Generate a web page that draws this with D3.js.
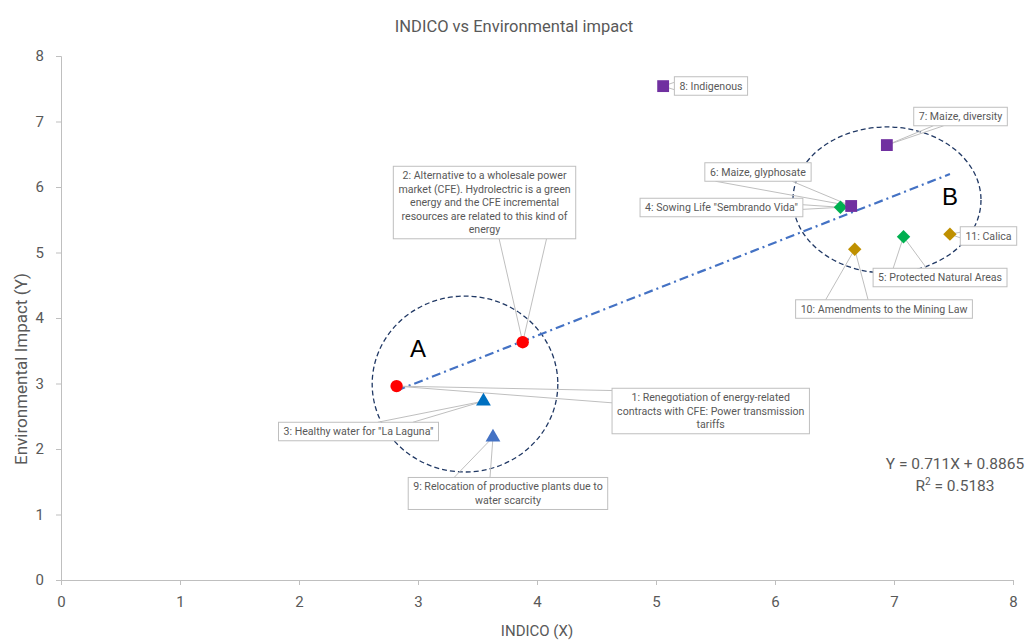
<!DOCTYPE html>
<html><head><meta charset="utf-8">
<script src="https://cdn.jsdelivr.net/npm/d3@7"></script>
<style>
body{margin:0;background:#fff;}
svg{display:block;font-family:Roboto, "Open Sans", sans-serif;}
</style></head>
<body><svg id="chart" width="1031" height="644"></svg>
<script>
// ---- data ----
const pointIds = [1,2,3,4,5,6,7,8,9,10,11];
const xValues = [2.82,3.88,3.55,6.55,7.08,6.64,6.94,5.06,3.63,6.67,7.47];
const yValues = [2.96,3.63,2.73,5.69,5.24,5.71,6.64,7.54,2.18,5.05,5.28];
const pointShapes = ["circle","circle","triangle","diamond","diamond","square","square","square","triangle","diamond","diamond"];
const pointColors = ["#FF0000","#FF0000","#0070C0","#00B050","#00B050","#7030A0","#7030A0","#7030A0","#4472C4","#BF9000","#BF9000"];
const pointLabels = [
  ["1: Renegotiation of energy-related","contracts with CFE: Power transmission","tariffs"],
  ["2: Alternative to a wholesale power","market (CFE). Hydrolectric is a green","energy and the CFE incremental","resources are related to this kind of","energy"],
  ["3: Healthy water for \"La Laguna\""],
  ["4: Sowing Life \"Sembrando Vida\""],
  ["5: Protected Natural Areas"],
  ["6: Maize, glyphosate"],
  ["7: Maize, diversity"],
  ["8: Indigenous"],
  ["9: Relocation of productive plants due to","water scarcity"],
  ["10: Amendments to the Mining Law"],
  ["11: Calica"]
];
const xTicks = [0,1,2,3,4,5,6,7,8];
const yTicks = [0,1,2,3,4,5,6,7,8];
const trendSlope = 0.711, trendIntercept = 0.8865, rSquared = 0.5183;
const clusterNames = ["A","B"];

// ---- layout (label box centers in data units, leader attachment) ----
const labelLayout = [
  {cx:5.46, cy:2.58, side:"left",   at:[0.05,0.32]},
  {cx:3.559,cy:5.763,side:"bottom", at:[0.58,0.84]},
  {cx:2.50, cy:2.267,side:"top",    at:[0.62,0.84]},
  {cx:5.55, cy:5.687,side:"right",  at:[0.35,0.6]},
  {cx:7.387,cy:4.618,side:"top",    at:[0.15,0.40]},
  {cx:5.857,cy:6.229,side:"bottom", at:[0.10,0.82]},
  {cx:7.559,cy:7.076,side:"bottom", at:[0.21,0.32]},
  {cx:5.462,cy:7.542,side:"left",   at:[0.3,0.7]},
  {cx:3.756,cy:1.321,side:"top",    at:[0.23,0.41]},
  {cx:6.916,cy:4.137,side:"top",    at:[0.17,0.41]},
  {cx:7.794,cy:5.252,side:"left",   at:[0.3,0.6]}
];
const clusterLayout = [
  {cx:3.395, cy:2.992, rx:0.78, ry:1.343, lx:3.0,  ly:3.54},
  {cx:6.941, cy:5.802, rx:0.79, ry:1.115, lx:7.47, ly:5.85}
];

const W=1031,H=644;
const m={left:61,right:18,top:56,bottom:64};
const svg=d3.select("#chart");
const x=d3.scaleLinear().domain([0,8]).range([m.left,W-m.right]);
const y=d3.scaleLinear().domain([0,8]).range([H-m.bottom,m.top]);
const grey="#595959", axisCol="#bfbfbf";

// title
svg.append("text").attr("x",514).attr("y",32).attr("text-anchor","middle")
  .attr("font-size",16.5).attr("fill",grey).text("INDICO vs Environmental impact");

// axes
const xa=svg.append("g").attr("transform",`translate(0,${y(0)})`)
  .call(d3.axisBottom(x).tickValues(xTicks).tickSize(5).tickFormat(d3.format("d")));
const ya=svg.append("g").attr("transform",`translate(${x(0)},0)`)
  .call(d3.axisLeft(y).tickValues(yTicks).tickSize(5).tickFormat(d3.format("d")));
[xa,ya].forEach(g=>{
  g.select(".domain").attr("stroke",axisCol);
  g.selectAll(".tick line").attr("stroke",axisCol);
  g.selectAll(".tick text").attr("fill",grey).attr("font-size",15).attr("font-family","Roboto, sans-serif");
});
xa.selectAll(".tick text").attr("dy","1.25em");
ya.selectAll(".tick text").attr("dx","-0.6em");

svg.append("text").attr("x",537).attr("y",636).attr("text-anchor","middle")
  .attr("font-size",15).attr("fill",grey).text("INDICO (X)");
svg.append("text").attr("transform",`translate(27,369) rotate(-90)`)
  .attr("text-anchor","middle").attr("font-size",17).attr("fill",grey).text("Environmental Impact (Y)");

// clusters
clusterLayout.forEach((c,i)=>{
  svg.append("ellipse").attr("cx",x(c.cx)).attr("cy",y(c.cy))
    .attr("rx",x(c.rx)-x(0)).attr("ry",y(0)-y(c.ry))
    .attr("fill","none").attr("stroke","#203864").attr("stroke-width",1.3).attr("stroke-dasharray","5,3");
  svg.append("text").attr("x",x(c.lx)).attr("y",y(c.ly)).attr("text-anchor","middle")
    .attr("dominant-baseline","central").attr("font-size",24).attr("font-family","Liberation Sans, Arial, sans-serif")
    .attr("fill","#000").text(clusterNames[i]);
});

// trendline
const xmin=d3.min(xValues), xmax=d3.max(xValues);
svg.append("line").attr("x1",x(xmin)).attr("y1",y(trendSlope*xmin+trendIntercept))
  .attr("x2",x(xmax)).attr("y2",y(trendSlope*xmax+trendIntercept))
  .attr("stroke","#4472C4").attr("stroke-width",2.2).attr("stroke-dasharray","9,4,2,4");

// labels
const lblG=svg.append("g");
const lblFont=10.6;
pointIds.forEach((id,i)=>{
  const L=labelLayout[i];
  const lines=pointLabels[i];
  const cx=x(L.cx), cy=y(L.cy);
  const g=lblG.append("g");
  const t=g.append("text").attr("font-size",lblFont).attr("fill",grey).attr("text-anchor","middle");
  lines.forEach((s,k)=>t.append("tspan").attr("x",cx).attr("y",0).attr("dy",k*13.5).text(s));
  const bb=t.node().getBBox();
  const w=bb.width+10, h=lines.length*13.5+5;
  const bx=cx-w/2, by=cy-h/2;
  t.attr("transform",`translate(0,${by+2.5+10.5})`);
  const px=x(xValues[i]), py=y(yValues[i]);
  L.at.forEach(f=>{
    let ax,ay;
    if(L.side==="top"){ax=bx+f*w;ay=by;}
    else if(L.side==="bottom"){ax=bx+f*w;ay=by+h;}
    else if(L.side==="left"){ax=bx;ay=by+f*h;}
    else {ax=bx+w;ay=by+f*h;}
    lblG.insert("line",":first-child").attr("x1",ax).attr("y1",ay).attr("x2",px).attr("y2",py)
      .attr("stroke",axisCol).attr("stroke-width",1);
  });
  g.insert("rect","text").attr("x",bx).attr("y",by).attr("width",w).attr("height",h)
    .attr("fill","#fff").attr("stroke",axisCol).attr("stroke-width",1);
});

// markers
const symMap={circle:d3.symbolCircle,square:d3.symbolSquare,triangle:d3.symbolTriangle,diamond:d3.symbolSquare};
const sizeMap={circle:120,square:140,triangle:95,diamond:90};
svg.append("g").selectAll("path").data(pointIds).join("path")
  .attr("transform",(d,i)=>`translate(${x(xValues[i])},${y(yValues[i])})`+(pointShapes[i]==="diamond"?" rotate(45)":""))
  .attr("d",(d,i)=>d3.symbol().type(symMap[pointShapes[i]]).size(sizeMap[pointShapes[i]])())
  .attr("fill",(d,i)=>pointColors[i]);

// equation
svg.append("text").attr("x",955).attr("y",469).attr("text-anchor","middle").attr("font-size",15.5)
  .attr("fill",grey).text(`Y = ${trendSlope}X + ${trendIntercept}`);
const r2=svg.append("text").attr("x",955).attr("y",491).attr("text-anchor","middle").attr("font-size",15.5).attr("fill",grey);
r2.append("tspan").text("R");
r2.append("tspan").attr("font-size",10).attr("dy",-6).text("2");
r2.append("tspan").attr("dy",6).text(` = ${rSquared}`);
</script></body></html>
